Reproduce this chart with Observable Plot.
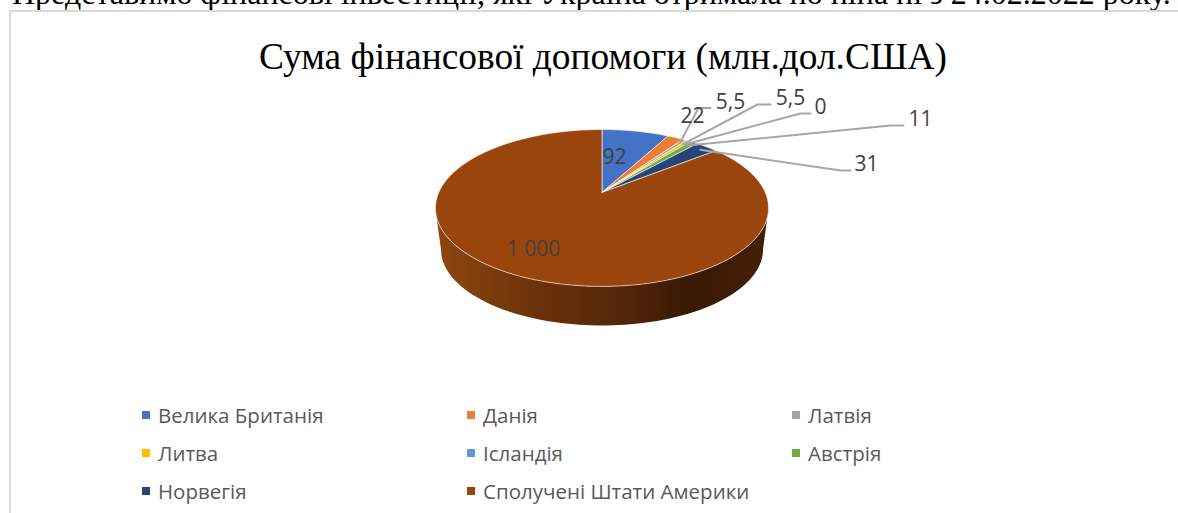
<!DOCTYPE html>
<html lang="uk">
<head>
<meta charset="utf-8">
<script src="https://cdn.jsdelivr.net/npm/d3@7"></script>
<script src="https://cdn.jsdelivr.net/npm/@observablehq/plot@0.6"></script>
<style>
  html, body { margin: 0; padding: 0; background: #fff; width: 1178px; height: 513px; overflow: hidden; }
  #page { position: relative; width: 1178px; height: 513px; overflow: hidden; }
  #lead { position: absolute; left: 12px; top: -27px; white-space: nowrap; font: 32px "Liberation Serif", serif; color: #000; line-height: 40px; }
  #frame { position: absolute; left: 9px; top: 10px; width: 1200px; height: 600px; border: 2px solid #d9d9d9; box-sizing: border-box; }
  #title { position: absolute; left: 0; top: 34px; width: 1206px; text-align: center; font: 37.4px "Liberation Serif", serif; color: #000; line-height: 46px; white-space: nowrap; }
  #chart { position: absolute; left: 0; top: 72px; }
  #legend { position: absolute; left: 142px; top: 396px; display: grid; grid-template-columns: repeat(3, 325px); grid-auto-rows: 38px; font: 20.5px "Open Sans", sans-serif; color: #595959; }
  #legend div { display: flex; align-items: center; white-space: nowrap; }
  #legend i { display: block; width: 8px; height: 8px; margin-right: 8px; flex: none; }
</style>
</head>
<body>
<div id="page">
  <div id="lead"></div>
  <div id="frame"></div>
  <div id="title"></div>
  <div id="chart"></div>
  <div id="legend"></div>
</div>
<script>
const leadText = "Представимо фінансові інвестиції, які Україна отримала по ніна ні з 24.02.2022 року.";
const titleText = "Сума фінансової допомоги (млн.дол.США)";
const countries = ["Велика Британія", "Данія", "Латвія", "Литва", "Ісландія", "Австрія", "Норвегія", "Сполучені Штати Америки"];
const amounts = [92, 22, 5.5, 5.5, 0, 11, 31, 1000];
const colors = ["#4472C4", "#ED7D31", "#A5A5A5", "#FFC000", "#5B9BD5", "#70AD47", "#264478", "#9A450C"];
const labelTexts = ["92", "22", "5,5", "5,5", "0", "11", "31", "1\u00A0000"];

// label placement on the page
const labelX = [614, 692, 730, 790, 820, 920, 866, 533];
const labelY = [157, 116, 102, 98, 107, 119, 164, 249];
// leader elbows [bendX, bendY, endX]; null = label sits on its slice
const leaders = [null, null, [698, 107.5, 710], [757, 104, 770], [800, 113, 810], [890, 125, 903], [840, 170, 850], null];

// tilted-disc projection: apex is above the centre of the drawn ellipse
const cx = 601.5, cy = 192, A = 163.3, B = 75.4, K = -0.197;
function rim(turn, r = 1) {
  const t = turn * 2 * Math.PI, u = r * Math.sin(t), v = -r * Math.cos(t), d = 1 + K * v;
  return [cx + A * u / d, cy + B * v / d];
}

const total = d3.sum(amounts);
let acc = 0;
const slicePts = [], leaderPts = [];
amounts.forEach((val, i) => {
  const a0 = acc / total, a1 = (acc + val) / total, name = countries[i];
  acc += val;
  if (val > 0) {
    const n = Math.max(2, Math.ceil((a1 - a0) * 180));
    const ring = [[cx, cy]];
    for (let k = 0; k <= n; k++) ring.push(rim(a0 + (a1 - a0) * k / n));
    ring.push([cx, cy]);
    ring.forEach(([x, y]) => slicePts.push({name, x, y}));
  }
  if (leaders[i]) {
    const s = rim((a0 + a1) / 2, 0.93), [bx, by, ex] = leaders[i];
    [[s[0], s[1]], [bx, by], [ex, by]].forEach(([x, y]) => leaderPts.push({name, x, y}));
  }
});

// side wall of the disc: front of the top rim, back along the bottom outline
const bottom = {x: 601.5, y: 249, rx: 161, ry: 76};
const wall = [];
for (let d = 101.4; d <= 258.6; d += 2) { const [x, y] = rim(d / 360); wall.push({x, y}); }
for (let d = 180; d >= 0; d -= 2) {
  const t = d * Math.PI / 180;
  wall.push({x: bottom.x + bottom.rx * Math.cos(t), y: bottom.y + bottom.ry * Math.sin(t)});
}

const labels = countries.map((c, i) => ({x: labelX[i], y: labelY[i], text: labelTexts[i]}));

const defs = () => {
  const d = d3.create("svg:defs");
  const g = d.append("linearGradient").attr("id", "wallShade").attr("x1", 0).attr("x2", 1).attr("y1", 0).attr("y2", 0);
  [[0, "#8F4610"], [0.3, "#6C320B"], [0.6, "#4F2408"], [0.75, "#381903"], [1, "#441F06"]]
    .forEach(([o, c]) => g.append("stop").attr("offset", o).attr("stop-color", c));
  return d.node();
};

const plot = Plot.plot({
  width: 1178, height: 303,
  margin: 0,
  x: {domain: [0, 1178], range: [0, 1178], axis: null},
  y: {domain: [72, 375], range: [0, 303], axis: null},
  color: {domain: countries, range: colors},
  style: {background: "transparent"},
  marks: [
    defs,
    Plot.line(wall, {x: "x", y: "y", fill: "url(#wallShade)", stroke: "none", curve: "linear-closed"}),
    Plot.line(slicePts, {x: "x", y: "y", z: "name", fill: "name", stroke: "#fff", strokeWidth: 0.8, strokeOpacity: 0.75, curve: "linear-closed"}),
    Plot.line(leaderPts, {x: "x", y: "y", z: "name", stroke: "#A6A6A6", strokeWidth: 2, curve: "linear"}),
    Plot.text(labels, {x: "x", y: "y", text: "text", fontSize: 21, fill: "#404040", fontFamily: "Open Sans, sans-serif", lineAnchor: "middle"})
  ]
});
document.getElementById("chart").appendChild(plot);
document.getElementById("lead").textContent = leadText;
document.getElementById("title").textContent = titleText;
const legend = d3.select("#legend");
countries.forEach((c, i) => {
  const row = legend.append("div");
  row.append("i").style("background", colors[i]);
  row.append("span").text(c);
});
</script>
</body>
</html>
